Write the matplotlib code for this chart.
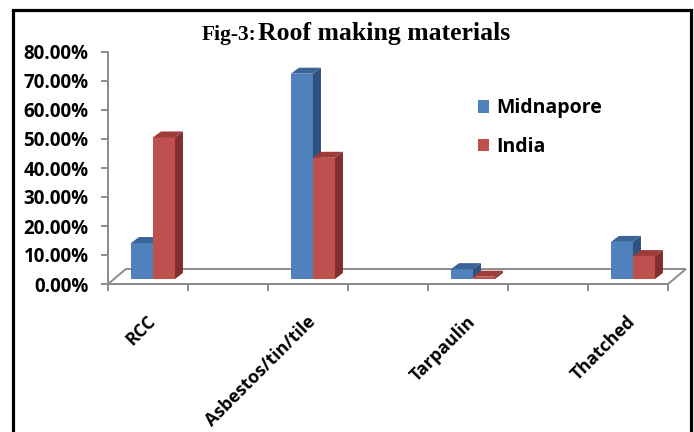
import matplotlib
matplotlib.use("Agg")
import matplotlib.pyplot as plt
from matplotlib.patches import Polygon, Rectangle
import numpy as np

# data (percent)
categories = ["RCC", "Asbestos/tin/tile", "Tarpaulin", "Thatched"]
series_names = ["Midnapore", "India"]
midnapore = [12.4, 70.8, 3.4, 12.8]
india = [48.8, 41.8, 0.8, 7.9]
y_ticks = [0, 10, 20, 30, 40, 50, 60, 70, 80]

# colours: front, top, side
colors = {
    "Midnapore": ("#4F81BD", "#3B6596", "#2F5180"),
    "India": ("#C0504D", "#9E3C39", "#7F302E"),
}

W, H = 694, 432
fig = plt.figure(figsize=(W / 100, H / 100), dpi=100)
ax = fig.add_axes([108 / W, (H - 284) / H, 560 / W, 232 / H])

XL, XR = -0.281, 3.219
ax.set_xlim(XL, XR)
ax.set_ylim(0, 80)

# pixel sizes in data units
px_x = (XR - XL) / 560
px_y = 80 / 232
bw = 22 * px_x
bar_dx, bar_dy = 8 * px_x, 6 * px_y
floor_dx, floor_dy = 18 * px_x, 15 * px_y
base = 5 * px_y
grey = "#8C8C8C"

# floor of the 3d plot
floor = Polygon([(XL, 0), (XR, 0), (XR + floor_dx, floor_dy), (XL + floor_dx, floor_dy)],
                closed=True, facecolor="white", edgecolor=grey, lw=1.4, clip_on=False, zorder=1)
ax.add_patch(floor)

x = np.arange(len(categories))
for i, (name, vals) in enumerate(zip(series_names, [midnapore, india])):
    front, top_c, side_c = colors[name]
    xc = x + (i - 0.5) * bw
    ax.bar(xc, vals, width=bw, bottom=base, color=front, label=name, zorder=3 + i)
    for xx, v in zip(xc, vals):
        x0, x1 = xx - bw / 2, xx + bw / 2
        t = base + v
        ax.add_patch(Polygon([(x0, t), (x1, t), (x1 + bar_dx, t + bar_dy), (x0 + bar_dx, t + bar_dy)],
                             closed=True, facecolor=top_c, edgecolor="none", clip_on=False, zorder=3 + i))
        ax.add_patch(Polygon([(x1, base), (x1 + bar_dx, base + bar_dy), (x1 + bar_dx, t + bar_dy), (x1, t)],
                             closed=True, facecolor=side_c, edgecolor="none", clip_on=False, zorder=3 + i))

# axes styling
for s in ["top", "right"]:
    ax.spines[s].set_visible(False)
for s in ["left", "bottom"]:
    ax.spines[s].set_color(grey)
    ax.spines[s].set_linewidth(1.4)

ax.set_yticks(y_ticks)
ax.set_yticklabels(["{:.2f}%".format(v) for v in y_ticks])
ax.tick_params(axis="y", length=5, width=1.4, color=grey, pad=9)

ax.set_xticks(x)
ax.set_xticklabels(categories, rotation=45, ha="right", va="center", rotation_mode="anchor")
ax.set_xticks([XL + 0.5 * k for k in range(8)], minor=True)
ax.tick_params(axis="x", which="major", length=0, pad=25)
ax.tick_params(axis="x", which="minor", length=5, width=1.4, color=grey)

for lab in ax.get_yticklabels():
    lab.set_fontsize(13.5)
for lab in ax.get_xticklabels():
    lab.set_fontsize(12.8)
for lab in ax.get_yticklabels() + ax.get_xticklabels():
    lab.set_fontfamily("Open Sans")
    lab.set_fontweight("bold")
    lab.set_color("black")

leg = fig.legend(loc="upper left", bbox_to_anchor=(460 / W, 1 - 81 / H), frameon=False,
                 handlelength=0.6, handleheight=0.6, handletextpad=0.35, labelspacing=0.95,
                 prop={"family": "Open Sans", "weight": "bold", "size": 14})

# title
fig.text(256 / W, 1 - 40 / H, "Fig-3:", ha="right", va="baseline",
         family="Liberation Serif", weight="bold", fontsize=15.5)
fig.text(258 / W, 1 - 40 / H, "Roof making materials", ha="left", va="baseline",
         family="Liberation Serif", weight="bold", fontsize=18.5)

# black frame around the chart
fig.add_artist(Rectangle((13 / W, -0.05), (691 - 13) / W, 1.05 - 10 / H, transform=fig.transFigure,
                         fill=False, edgecolor="black", lw=2.3))

fig.savefig("out.png", dpi=100)
